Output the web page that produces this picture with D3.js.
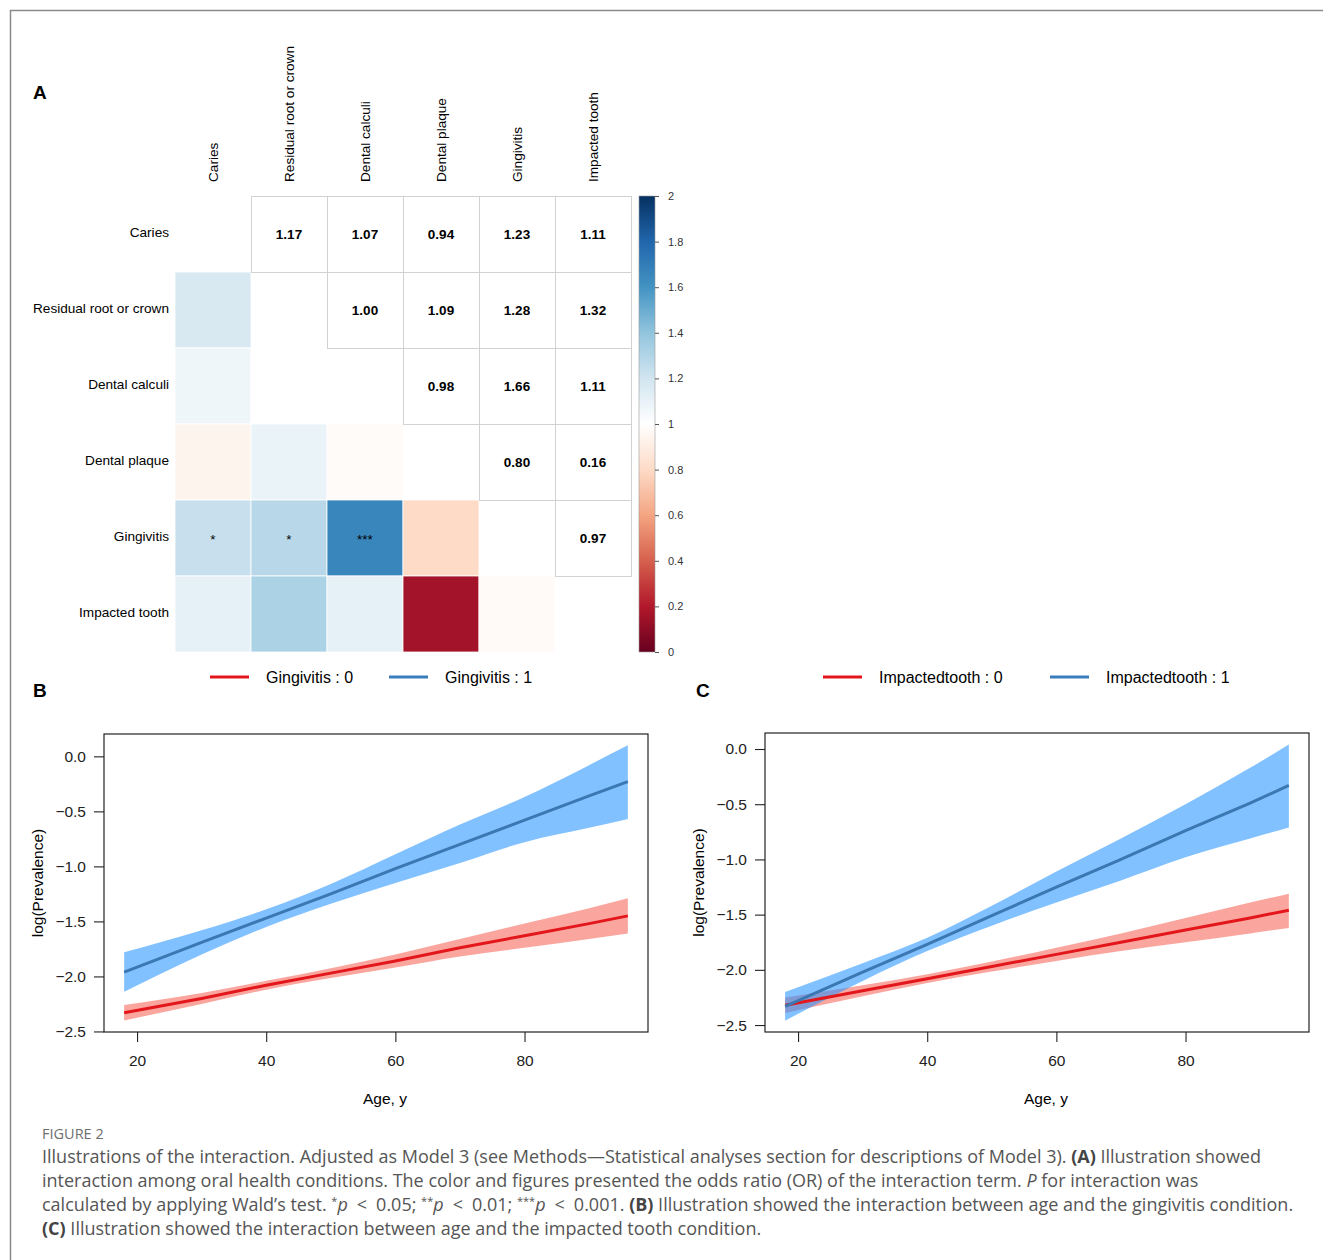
<!DOCTYPE html>
<html>
<head>
<meta charset="utf-8">
<script src="https://cdn.jsdelivr.net/npm/d3@7"></script>
<style>
  body { margin: 0; background: #fff; }
  svg { display: block; }
</style>
</head>
<body>
<div id="chart"></div>
<script>
// ---- Panel A: interaction odds ratios ----
const conditions = ["Caries", "Residual root or crown", "Dental calculi", "Dental plaque", "Gingivitis", "Impacted tooth"];
// upper triangle OR values (row i, col j, j > i)
const orValues = [
  [null, 1.17, 1.07, 0.94, 1.23, 1.11],
  [null, null, 1.00, 1.09, 1.28, 1.32],
  [null, null, null, 0.98, 1.66, 1.11],
  [null, null, null, null, 0.80, 0.16],
  [null, null, null, null, null, 0.97],
  [null, null, null, null, null, null]
];
// significance marks for the lower triangle
const sigMarks = [
  { a: "Caries", b: "Gingivitis", mark: "*" },
  { a: "Residual root or crown", b: "Gingivitis", mark: "*" },
  { a: "Dental calculi", b: "Gingivitis", mark: "***" }
];
const legendTicks = [0, 0.2, 0.4, 0.6, 0.8, 1, 1.2, 1.4, 1.6, 1.8, 2];
// corrplot style RdBu palette (white in the middle)
const rdbu = ["#67001F", "#B2182B", "#D6604D", "#F4A582", "#FDDBC7", "#FFFFFF",
              "#D1E5F0", "#92C5DE", "#4393C3", "#2166AC", "#053061"];

// ---- Panels B and C: log(prevalence) by age ----
const ages = [18, 30, 40, 50, 60, 70, 80, 90, 96];
const bFit0 = [-2.33, -2.20, -2.08, -1.97, -1.86, -1.74, -1.63, -1.52, -1.45];
const bLo0  = [-2.40, -2.25, -2.12, -2.015, -1.92, -1.82, -1.74, -1.66, -1.61];
const bHi0  = [-2.26, -2.15, -2.04, -1.925, -1.80, -1.66, -1.52, -1.38, -1.29];
const bFit1 = [-1.96, -1.69, -1.47, -1.25, -1.02, -0.80, -0.58, -0.36, -0.23];
const bLo1  = [-2.14, -1.80, -1.55, -1.34, -1.15, -0.97, -0.78, -0.65, -0.57];
const bHi1  = [-1.78, -1.58, -1.39, -1.16, -0.89, -0.62, -0.37, -0.08, 0.10];

const cFit0 = [-2.32, -2.19, -2.08, -1.97, -1.86, -1.75, -1.64, -1.53, -1.46];
const cLo0  = [-2.39, -2.24, -2.12, -2.015, -1.92, -1.83, -1.75, -1.67, -1.62];
const cHi0  = [-2.25, -2.14, -2.04, -1.925, -1.80, -1.67, -1.53, -1.39, -1.31];
const cFit1 = [-2.33, -2.02, -1.77, -1.51, -1.25, -1.00, -0.74, -0.49, -0.33];
const cLo1  = [-2.46, -2.10, -1.83, -1.60, -1.39, -1.19, -0.98, -0.81, -0.71];
const cHi1  = [-2.20, -1.94, -1.71, -1.42, -1.11, -0.81, -0.50, -0.17, 0.04];

const xTicks = [20, 40, 60, 80];
const yTicks = [0, -0.5, -1, -1.5, -2, -2.5];

const W = 1323, H = 1260;
const svg = d3.select("#chart").append("svg").attr("width", W).attr("height", H);

// outer frame
svg.append("rect").attr("x", 10.5).attr("y", 10.5).attr("width", 1400).attr("height", 1400)
  .attr("fill", "none").attr("stroke", "#8a8a8a").attr("stroke-width", 1.5);

const arial = "'Liberation Sans', Arial, sans-serif";

function panelLetter(txt, x, y) {
  svg.append("text").attr("x", x).attr("y", y).text(txt)
    .style("font-family", arial).style("font-weight", "bold").style("font-size", "19px");
}

// ===== Panel A =====
panelLetter("A", 33, 99);

const n = conditions.length;
const gx = d3.scaleBand().domain(d3.range(n)).range([175, 631]);
const gy = d3.scaleBand().domain(d3.range(n)).range([196, 652]);
const color = d3.scaleLinear().domain(d3.range(0, 2.0001, 0.2)).range(rdbu).interpolate(d3.interpolateRgb);

// full symmetric matrix of values
const full = d3.range(n).map(i => d3.range(n).map(j =>
  i === j ? null : (j > i ? orValues[i][j] : orValues[j][i])));

const cells = [];
for (let i = 0; i < n; i++) for (let j = 0; j < n; j++) cells.push({ i, j, v: full[i][j] });

const gA = svg.append("g");
// lower triangle coloured
gA.selectAll("rect.low").data(cells.filter(d => d.j < d.i)).join("rect")
  .attr("x", d => gx(d.j)).attr("y", d => gy(d.i))
  .attr("width", gx.bandwidth()).attr("height", gy.bandwidth())
  .attr("fill", d => color(d.v)).attr("stroke", "#fff").attr("stroke-width", 0.8);
// upper triangle with numbers
gA.selectAll("rect.up").data(cells.filter(d => d.j > d.i)).join("rect")
  .attr("x", d => gx(d.j) + 0.5).attr("y", d => gy(d.i) + 0.5)
  .attr("width", gx.bandwidth()).attr("height", gy.bandwidth())
  .attr("fill", "#fff").attr("stroke", "#d2d2d2").attr("stroke-width", 1);
gA.selectAll("text.val").data(cells.filter(d => d.j > d.i)).join("text")
  .attr("x", d => gx(d.j) + gx.bandwidth() / 2)
  .attr("y", d => gy(d.i) + gy.bandwidth() / 2)
  .attr("dy", "0.36em").attr("text-anchor", "middle")
  .style("font-family", arial).style("font-weight", "bold").style("font-size", "13.5px")
  .text(d => d.v.toFixed(2));
// significance stars
gA.selectAll("text.sig").data(sigMarks).join("text")
  .attr("x", d => gx(conditions.indexOf(d.a)) + gx.bandwidth() / 2)
  .attr("y", d => gy(conditions.indexOf(d.b)) + gy.bandwidth() / 2)
  .attr("dy", "0.45em").attr("text-anchor", "middle")
  .style("font-family", arial).style("font-size", "13.5px")
  .text(d => d.mark);

// row labels
gA.selectAll("text.row").data(conditions).join("text")
  .attr("x", 169).attr("y", (d, i) => gy(i) + gy.bandwidth() / 2 - 2)
  .attr("dy", "0.35em").attr("text-anchor", "end")
  .style("font-family", arial).style("font-size", "13.6px").text(d => d);
// column labels
gA.selectAll("text.col").data(conditions).join("text")
  .attr("transform", (d, i) => `translate(${gx(i) + gx.bandwidth() / 2},182) rotate(-90)`)
  .attr("dy", "0.35em").attr("text-anchor", "start")
  .style("font-family", arial).style("font-size", "13.6px").text(d => d);

// colour bar
const cbScale = d3.scaleLinear().domain([0, 2]).range([652, 196]);
const grad = svg.append("defs").append("linearGradient").attr("id", "rdbu")
  .attr("x1", 0).attr("y1", 1).attr("x2", 0).attr("y2", 0);
grad.selectAll("stop").data(rdbu).join("stop")
  .attr("offset", (d, i) => i / (rdbu.length - 1)).attr("stop-color", d => d);
svg.append("rect").attr("x", 639).attr("y", 196).attr("width", 16).attr("height", 456)
  .attr("fill", "url(#rdbu)").attr("stroke", "#9a9a9a").attr("stroke-width", 0.6);
const cbAxis = svg.append("g").attr("transform", "translate(655,0)")
  .call(d3.axisRight(cbScale).tickValues(legendTicks).tickSize(4).tickFormat(d3.format("~g")));
cbAxis.select(".domain").remove();
cbAxis.selectAll("line").attr("stroke", "#555");
cbAxis.selectAll("text").attr("x", 13).style("font-family", arial).style("font-size", "11px").attr("fill", "#333");

// ===== Panels B and C =====
const xDomain = [14.88, 99.12];

function drawPanel(cfg) {
  const g = svg.append("g");
  const x = d3.scaleLinear().domain(xDomain).range([cfg.left, cfg.right]);
  const y = d3.scaleLinear().domain(cfg.yDomain).range([cfg.bottom, cfg.top]);

  const area = (lo, hi) => d3.area().curve(d3.curveMonotoneX)
    .x((d, i) => x(ages[i])).y0((d, i) => y(lo[i])).y1((d, i) => y(hi[i]))(ages);
  const line = fit => d3.line().x((d, i) => x(ages[i])).y((d, i) => y(fit[i]))(ages);

  g.append("path").attr("d", area(cfg.lo0, cfg.hi0)).attr("fill", "rgba(244, 58, 40, 0.45)");
  g.append("path").attr("d", area(cfg.lo1, cfg.hi1)).attr("fill", "rgba(30, 144, 255, 0.56)");
  g.append("path").attr("d", line(cfg.fit0)).attr("fill", "none").attr("stroke", "#e3161b").attr("stroke-width", 3);
  g.append("path").attr("d", line(cfg.fit1)).attr("fill", "none").attr("stroke", "#3b78b2").attr("stroke-width", 3);

  // box
  g.append("rect").attr("x", cfg.left).attr("y", cfg.top)
    .attr("width", cfg.right - cfg.left).attr("height", cfg.bottom - cfg.top)
    .attr("fill", "none").attr("stroke", "#222").attr("stroke-width", 1.2);

  const xa = g.append("g").attr("transform", `translate(0,${cfg.bottom})`)
    .call(d3.axisBottom(x).tickValues(xTicks).tickSize(10).tickPadding(13));
  const ya = g.append("g").attr("transform", `translate(${cfg.left},0)`)
    .call(d3.axisLeft(y).tickValues(yTicks).tickSize(10).tickPadding(8)
      .tickFormat(d => d3.format(".1f")(d).replace("-", "\u2212")));
  [xa, ya].forEach(a => {
    a.select(".domain").remove();
    a.selectAll("line").attr("stroke", "#222").attr("stroke-width", 1.1);
    a.selectAll("text").style("font-family", arial).style("font-size", "15.5px").attr("fill", "#222");
  });

  g.append("text").attr("x", (cfg.left + cfg.right) / 2 + 9).attr("y", 1104).attr("text-anchor", "middle")
    .style("font-family", arial).style("font-size", "15.5px").text("Age, y");
  g.append("text").attr("transform", `translate(${cfg.left - 66},${(cfg.top + cfg.bottom) / 2}) rotate(-90)`)
    .attr("text-anchor", "middle").attr("dy", "0.35em")
    .style("font-family", arial).style("font-size", "15.5px").text("log(Prevalence)");

  // legend
  const leg = [
    { label: cfg.name + " : 0", col: "#e3161b", lx: cfg.leg0 },
    { label: cfg.name + " : 1", col: "#3a7dbd", lx: cfg.leg1 }
  ];
  leg.forEach(l => {
    g.append("line").attr("x1", l.lx).attr("x2", l.lx + 39).attr("y1", 677).attr("y2", 677)
      .attr("stroke", l.col).attr("stroke-width", 3);
    g.append("text").attr("x", l.lx + 56).attr("y", 677).attr("dy", "0.35em")
      .style("font-family", arial).style("font-size", "16px").text(l.label);
  });
}

panelLetter("B", 33, 697);
drawPanel({
  name: "Gingivitis", left: 104, right: 648, top: 734, bottom: 1032, yDomain: [-2.505, 0.203],
  fit0: bFit0, lo0: bLo0, hi0: bHi0, fit1: bFit1, lo1: bLo1, hi1: bHi1, leg0: 210, leg1: 389
});
panelLetter("C", 696, 697);
drawPanel({
  name: "Impactedtooth", left: 765, right: 1309, top: 733, bottom: 1032, yDomain: [-2.563, 0.145],
  fit0: cFit0, lo0: cLo0, hi0: cHi0, fit1: cFit1, lo1: cLo1, hi1: cHi1, leg0: 823, leg1: 1050
});

// ===== Caption =====
const capFont = "'Open Sans', 'Noto Sans', sans-serif";
svg.append("text").attr("x", 42).attr("y", 1139).text("FIGURE 2")
  .style("font-family", capFont).style("font-size", "14.5px").attr("fill", "#6e6e6e");

const lt = "\u2002<\u2002";
const capLines = [
  [["Illustrations of the interaction. Adjusted as Model 3 (see Methods\u2014Statistical analyses section for descriptions of Model 3). "], ["(A)", "b"], [" Illustration showed"]],
  [["interaction among oral health conditions. The color and figures presented the odds ratio (OR) of the interaction term. "], ["P", "i"], [" for interaction was"]],
  [["calculated by applying Wald\u2019s test. "], ["*", "s"], ["p", "i"], [lt + "0.05; "], ["**", "s"], ["p", "i"], [lt + "0.01; "], ["***", "s"], ["p", "i"], [lt + "0.001. "], ["(B)", "b"], [" Illustration showed the interaction between age and the gingivitis condition."]],
  [["(C)", "b"], [" Illustration showed the interaction between age and the impacted tooth condition."]]
];
capLines.forEach((parts, li) => {
  const t = svg.append("text").attr("x", 42).attr("y", 1163 + li * 24)
    .style("font-family", capFont).style("font-size", "18px").attr("fill", "#555");
  parts.forEach(p => {
    const s = t.append("tspan").text(p[0]);
    if (p[1] === "b") s.style("font-weight", "bold").attr("fill", "#444");
    if (p[1] === "i") s.style("font-style", "italic");
    if (p[1] === "s") s.attr("dy", -6).style("font-size", "11px");
    if (p[1] === "i" && li === 2) s.attr("dy", 6);
  });
});
</script>
</body>
</html>
